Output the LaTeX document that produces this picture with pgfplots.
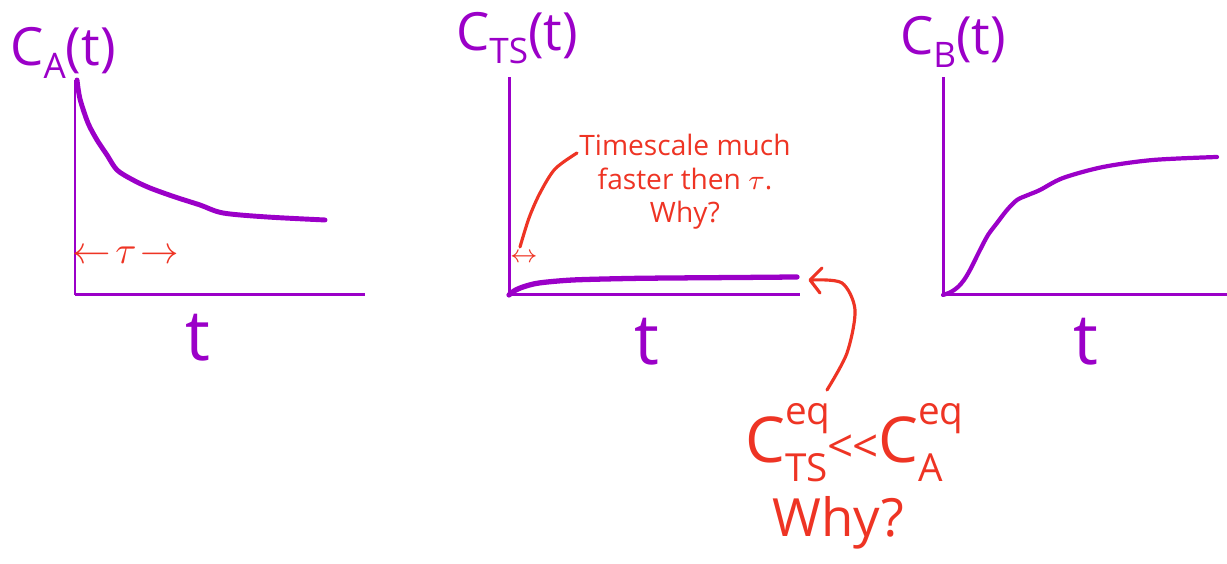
\documentclass[border=0pt]{standalone}
\usepackage{fontspec}
\setmainfont{Open Sans}
\usepackage{pgfplots}
\pgfplotsset{compat=1.18}
\definecolor{sketchpurple}{RGB}{155,0,200}
\definecolor{sketchred}{RGB}{238,52,36}

\pgfplotsset{
  sketch/.style={
    scale only axis, anchor=south west, clip=false,
    axis lines=left,
    axis line style={-, line width=0.85pt, draw=sketchpurple},
    xtick=\empty, ytick=\empty,
    xmin=0, ymin=0,
  },
}

\begin{document}
\begin{tikzpicture}
\useasboundingbox (0,0) rectangle (12.27cm,5.64cm);

% C_A(t): decay
\begin{axis}[sketch, at={(0.75cm,2.69cm)}, width=2.90cm, height=2.15cm,
  xmax=290, ymax=215]
\addplot[sketchpurple, line width=1.4pt, line cap=round, smooth]
  coordinates {(2,215)(5,196)(13,172)(22,155)(32,140)(42,125)(58,115)(75,107)
               (100,98)(125,90)(148,82)(192,78)(250,75)};
\end{axis}

% C_TS(t): fast rise to a small plateau
\begin{axis}[sketch, at={(5.09cm,2.69cm)}, width=2.91cm, height=2.18cm,
  xmax=291, ymax=218]
\addplot[sketchpurple, line width=1.5pt, line cap=round, smooth]
  coordinates {(0,0)(5,4)(14,8)(30,12)(64,15)(120,16.5)(164,17)(230,17.5)(288,18)};
\end{axis}

% C_B(t): sigmoid-like rise
\begin{axis}[sketch, at={(9.43cm,2.69cm)}, width=2.84cm, height=2.18cm,
  xmax=284, ymax=218]
\addplot[sketchpurple, line width=1.2pt, line cap=round, smooth]
  coordinates {(0,0)(8,3)(15,8)(21,15)(27,25)(37,45)(45,60)(54,72)(64,85)(74,95)
               (85,100)(97,105)(120,117)(160,128)(210,135)(274,138)};
\end{axis}

% purple labels
\begin{scope}[every node/.style={text=sketchpurple, inner sep=0pt}]
\node at (0.63cm,5.11cm) {\fontsize{15}{17}\selectfont C\raisebox{-0.25em}{\fontsize{10}{12}\selectfont A}(t)};
\node at (5.17cm,5.26cm) {\fontsize{15}{17}\selectfont C\raisebox{-0.25em}{\fontsize{10}{12}\selectfont TS}(t)};
\node at (9.53cm,5.22cm) {\fontsize{15}{17}\selectfont C\raisebox{-0.25em}{\fontsize{10}{12}\selectfont B}(t)};
\node at (1.98cm,2.26cm) {\fontsize{20}{22}\selectfont t};
\node at (6.47cm,2.22cm) {\fontsize{20}{22}\selectfont t};
\node at (10.86cm,2.22cm) {\fontsize{20}{22}\selectfont t};
\end{scope}

% red annotations
\begin{scope}[every node/.style={text=sketchred, inner sep=0pt}]
\node at (1.26cm,3.09cm) {\fontsize{11}{13}\selectfont $\leftarrow\!\tau\!\rightarrow$};
\node at (5.24cm,3.06cm) {\fontsize{7}{8}\selectfont $\leftrightarrow$};
\node[align=center, font=\fontsize{8}{9.5}\selectfont] at (6.85cm,3.82cm)
  {Timescale much\\ faster then $\tau$.\\ Why?};
\node at (8.44cm,1.21cm) {\fontsize{18}{20}\selectfont
  C\rlap{\raisebox{0.6em}{\fontsize{11}{12}\selectfont eq}}\raisebox{-0.3em}{\fontsize{11}{12}\selectfont TS}{\fontsize{13}{15}\selectfont{<}\kern-0.5pt{<}}C\rlap{\raisebox{0.6em}{\fontsize{11}{12}\selectfont eq}}\raisebox{-0.3em}{\fontsize{11}{12}\selectfont A}};
\node at (8.38cm,0.41cm) {\fontsize{15}{17}\selectfont Why?};
\end{scope}

\draw[sketchred, line width=0.9pt, line cap=round]
  plot[smooth] coordinates {(5.20cm,3.17cm)(5.29cm,3.46cm)(5.40cm,3.71cm)(5.55cm,3.95cm)(5.77cm,4.11cm)};
\draw[sketchred, line width=0.9pt, line cap=round, line join=round]
  plot[smooth] coordinates {(8.27cm,1.74cm)(8.47cm,2.11cm)(8.55cm,2.54cm)(8.42cm,2.81cm)(8.12cm,2.84cm)};
\draw[sketchred, line width=0.9pt, line cap=round, line join=round]
  (8.22cm,2.96cm) -- (8.10cm,2.84cm) -- (8.20cm,2.71cm);
\end{tikzpicture}
\end{document}
